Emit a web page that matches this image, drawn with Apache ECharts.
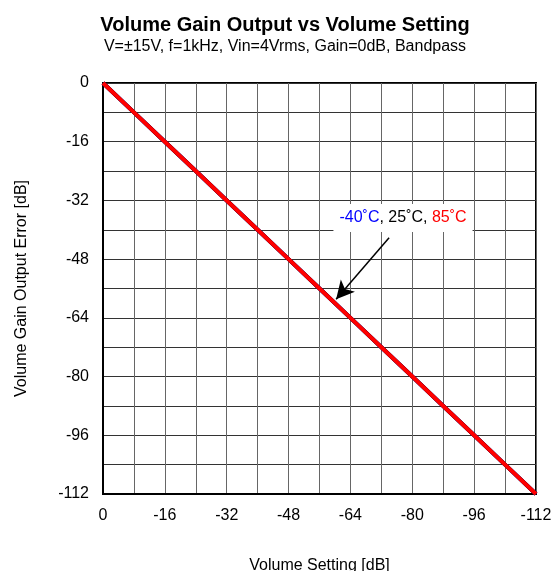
<!DOCTYPE html>
<html>
<head>
<meta charset="utf-8">
<script src="https://cdn.jsdelivr.net/npm/echarts@6/dist/echarts.min.js"></script>
<style>html,body{margin:0;padding:0;background:#fff;}#c{width:558px;height:571px;}</style>
</head>
<body>
<div id="c"></div>
<script>
var volumeSetting = [0, -8, -16, -24, -32, -40, -48, -56, -64, -72, -80, -88, -96, -104, -112];
var outM40 = [0, -8, -16, -24, -32, -40, -48, -56, -64, -72, -80, -88, -96, -104, -112];
var out25 = [0, -8, -16, -24, -32, -40, -48, -56, -64, -72, -80, -88, -96, -104, -112];
var out85 = [0, -8, -16, -24, -32, -40, -48, -56, -64, -72, -80, -88, -96, -104, -112];
var seriesNames = ['-40˚C', '25˚C', '85˚C'];
var arrowFrom = [-74, -42.2];
var arrowTo = [-60.3, -58.9];
var labelAt = [-77.6, -36.8];

function pairs(xs, ys) { return xs.map(function (x, i) { return [x, ys[i]]; }); }

var font = 'Liberation Sans, Arial, sans-serif';
var chart = echarts.init(document.getElementById('c'));
chart.setOption({
  animation: false,
  backgroundColor: '#fff',
  title: {
    text: 'Volume Gain Output vs Volume Setting',
    subtext: 'V=±15V, f=1kHz, Vin=4Vrms, Gain=0dB, Bandpass',
    left: 280, textAlign: 'center', top: 10, itemGap: 4,
    textStyle: { fontFamily: font, fontSize: 20, fontWeight: 'bold', color: '#000' },
    subtextStyle: { fontFamily: font, fontSize: 16, color: '#000' }
  },
  grid: { left: 103, right: 22, top: 83, bottom: 77, containLabel: false, outerBoundsMode: 'none',
    show: true, borderColor: '#000', borderWidth: 2, backgroundColor: 'transparent' },
  xAxis: {
    type: 'value', inverse: true, min: -112, max: 0, interval: 16,
    name: 'Volume Setting [dB]', nameLocation: 'middle', nameGap: 64,
    nameTextStyle: { fontFamily: font, fontSize: 16, color: '#000' },
    axisLine: { show: true, onZero: false, lineStyle: { color: '#000', width: 2 } },
    axisTick: { show: false },
    axisLabel: { fontFamily: font, fontSize: 16, color: '#000', margin: 14 },
    splitLine: { show: true, lineStyle: { color: '#666', width: 1 } },
    minorTick: { show: false, splitNumber: 2 },
    minorSplitLine: { show: true, lineStyle: { color: '#666', width: 1 } }
  },
  yAxis: {
    type: 'value', min: -112, max: 0, interval: 16,
    name: 'Volume Gain Output Error [dB]', nameLocation: 'middle', nameGap: 73,
    nameTextStyle: { fontFamily: font, fontSize: 16, color: '#000' },
    axisLine: { show: true, onZero: false, lineStyle: { color: '#000', width: 2 } },
    axisTick: { show: false },
    axisLabel: { fontFamily: font, fontSize: 16, color: '#000', margin: 14 },
    splitLine: { show: true, lineStyle: { color: '#333', width: 1 } },
    minorTick: { show: false, splitNumber: 2 },
    minorSplitLine: { show: true, lineStyle: { color: '#333', width: 1 } }
  },
  series: [
    { name: seriesNames[0], type: 'line', data: pairs(volumeSetting, outM40), symbol: 'none',
      lineStyle: { color: '#0000ff', width: 4 }, z: 3 },
    { name: seriesNames[1], type: 'line', data: pairs(volumeSetting, out25), symbol: 'none',
      lineStyle: { color: '#000', width: 4 }, z: 4 },
    { name: seriesNames[2], type: 'line', data: pairs(volumeSetting, out85), symbol: 'none',
      lineStyle: { color: '#ff0000', width: 4 }, z: 5,
      markLine: {
        silent: true, symbol: ['none', 'arrow'], symbolSize: [14, 18],
        lineStyle: { color: '#000', width: 1.5, type: 'solid' },
        label: { show: false },
        data: [[{ coord: arrowFrom }, { coord: arrowTo }]]
      },
      markPoint: {
        silent: true, symbol: 'rect', symbolSize: 0,
        data: [{ coord: labelAt }],
        label: {
          show: true, position: 'inside',
          backgroundColor: '#fff', padding: [6, 6],
          formatter: '{b|' + seriesNames[0] + '}{k|, ' + seriesNames[1] + ', }{r|' + seriesNames[2] + '}',
          rich: {
            b: { color: '#0000ff', fontFamily: font, fontSize: 16 },
            k: { color: '#000', fontFamily: font, fontSize: 16 },
            r: { color: '#ff0000', fontFamily: font, fontSize: 16 }
          }
        }
      }
    }
  ]
});
</script>
</body>
</html>
